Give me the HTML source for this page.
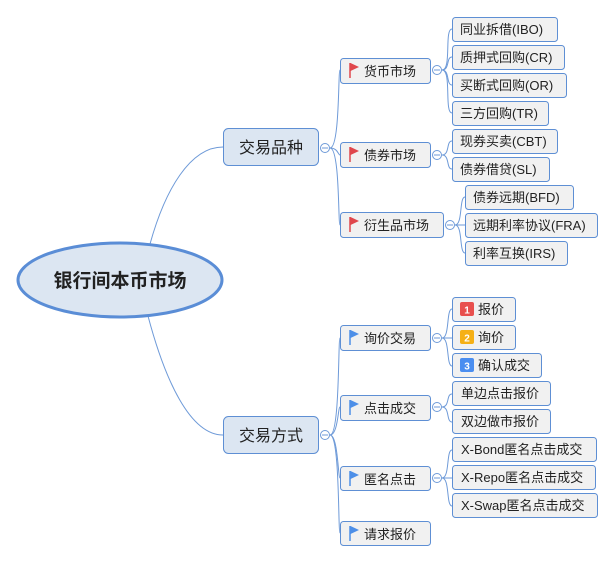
<!DOCTYPE html>
<html><head><meta charset="utf-8"><style>
html,body{margin:0;padding:0;background:#fff;}
svg{display:block;}
text{font-family:"Liberation Sans","Noto Sans CJK SC",sans-serif;fill:#222;}
.b{fill:#f1f1f1;stroke:#5e8fd4;stroke-width:1;}
.m{fill:#dce6f2;stroke:#5e8fd4;stroke-width:1;}
.l{fill:none;stroke:#6e9ad8;stroke-width:1;}
.c{fill:#fff;stroke:#6e9ad8;stroke-width:1;}
.t{font-size:13px;}
</style></head><body>
<svg width="614" height="562" viewBox="0 0 614 562">
<!-- root to main -->
<path class="l" d="M150,244 C165,190 190,147 223,147"/>
<path class="l" d="M148,316 C165,380 190,435 223,435"/>
<!-- main to level2 -->
<path class="l" d="M330,148 C340,148 338,70 340,70"/>
<path class="l" d="M330,148 C338,148 338,155 340,155"/>
<path class="l" d="M330,148 C340,148 338,225 340,225"/>
<path class="l" d="M330,435 C340,435 338,338 340,338"/>
<path class="l" d="M330,435 C338,435 338,407 340,407"/>
<path class="l" d="M330,435 C338,435 338,478 340,478"/>
<path class="l" d="M330,435 C340,435 338,533 340,533"/>
<!-- level2 to level3 -->
<g class="l">
<path d="M442,70 C452,70 444,29 452,29"/><path d="M442,70 C450,70 446,57 452,57"/>
<path d="M442,70 C450,70 446,85 452,85"/><path d="M442,70 C452,70 444,113 452,113"/>
<path d="M442,155 C450,155 446,141 452,141"/><path d="M442,155 C450,155 446,169 452,169"/>
<path d="M455,225 C463,225 459,197 465,197"/><path d="M455,225 L465,225"/><path d="M455,225 C463,225 459,253 465,253"/>
<path d="M442,338 C450,338 446,309 452,309"/><path d="M442,338 L452,338"/><path d="M442,338 C450,338 446,366 452,366"/>
<path d="M442,407 C450,407 446,394 452,394"/><path d="M442,407 C450,407 446,422 452,422"/>
<path d="M442,478 C450,478 446,450 452,450"/><path d="M442,478 L452,478"/><path d="M442,478 C450,478 446,506 452,506"/>
</g>
<!-- root -->
<ellipse cx="120" cy="280" rx="102" ry="37" fill="#dce6f2" stroke="#5a8dd6" stroke-width="3"/>
<text x="120" y="287" text-anchor="middle" font-size="19" font-weight="bold">银行间本币市场</text>
<!-- main -->
<rect class="m" x="223.5" y="128.5" width="95" height="37" rx="5"/>
<text x="271" y="153" text-anchor="middle" font-size="16">交易品种</text>
<rect class="m" x="223.5" y="416.5" width="95" height="37" rx="5"/>
<text x="271" y="441" text-anchor="middle" font-size="16">交易方式</text>
<circle class="c" cx="325" cy="148" r="4.5"/><line x1="322" y1="148" x2="328" y2="148" stroke="#6e9ad8"/>
<circle class="c" cx="325" cy="435" r="4.5"/><line x1="322" y1="435" x2="328" y2="435" stroke="#6e9ad8"/>
<!-- level2 -->
<g>
<rect class="b" x="340.5" y="58.5" width="90" height="25" rx="3"/><path d="M350,63 V78" stroke="#e0474c" stroke-width="1.5"/><path d="M350.5,63 L359,67 L350.5,71Z" fill="#e0474c"/><text class="t" x="364" y="76">货币市场</text>
<rect class="b" x="340.5" y="142.5" width="90" height="25" rx="3"/><path d="M350,147 V162" stroke="#e0474c" stroke-width="1.5"/><path d="M350.5,147 L359,151 L350.5,155Z" fill="#e0474c"/><text class="t" x="364" y="160">债券市场</text>
<rect class="b" x="340.5" y="212.5" width="103" height="25" rx="3"/><path d="M350,217 V232" stroke="#e0474c" stroke-width="1.5"/><path d="M350.5,217 L359,221 L350.5,225Z" fill="#e0474c"/><text class="t" x="364" y="230">衍生品市场</text>
<rect class="b" x="340.5" y="325.5" width="90" height="25" rx="3"/><path d="M350,330 V345" stroke="#4d8fe8" stroke-width="1.5"/><path d="M350.5,330 L359,334 L350.5,338Z" fill="#4d8fe8"/><text class="t" x="364" y="343">询价交易</text>
<rect class="b" x="340.5" y="395.5" width="90" height="25" rx="3"/><path d="M350,400 V415" stroke="#4d8fe8" stroke-width="1.5"/><path d="M350.5,400 L359,404 L350.5,408Z" fill="#4d8fe8"/><text class="t" x="364" y="413">点击成交</text>
<rect class="b" x="340.5" y="466.5" width="90" height="24" rx="3"/><path d="M350,471 V486" stroke="#4d8fe8" stroke-width="1.5"/><path d="M350.5,471 L359,475 L350.5,479Z" fill="#4d8fe8"/><text class="t" x="364" y="484">匿名点击</text>
<rect class="b" x="340.5" y="521.5" width="90" height="24" rx="3"/><path d="M350,526 V541" stroke="#4d8fe8" stroke-width="1.5"/><path d="M350.5,526 L359,530 L350.5,534Z" fill="#4d8fe8"/><text class="t" x="364" y="539">请求报价</text>
</g>
<g>
<circle class="c" cx="437" cy="70" r="4.5"/><line x1="434" y1="70" x2="440" y2="70" stroke="#6e9ad8"/>
<circle class="c" cx="437" cy="155" r="4.5"/><line x1="434" y1="155" x2="440" y2="155" stroke="#6e9ad8"/>
<circle class="c" cx="450" cy="225" r="4.5"/><line x1="447" y1="225" x2="453" y2="225" stroke="#6e9ad8"/>
<circle class="c" cx="437" cy="338" r="4.5"/><line x1="434" y1="338" x2="440" y2="338" stroke="#6e9ad8"/>
<circle class="c" cx="437" cy="407" r="4.5"/><line x1="434" y1="407" x2="440" y2="407" stroke="#6e9ad8"/>
<circle class="c" cx="437" cy="478" r="4.5"/><line x1="434" y1="478" x2="440" y2="478" stroke="#6e9ad8"/>
</g>
<!-- level3 -->
<g>
<rect class="b" x="452.5" y="17.5" width="105" height="24" rx="3"/><text class="t" x="460" y="34">同业拆借(IBO)</text>
<rect class="b" x="452.5" y="45.5" width="112" height="24" rx="3"/><text class="t" x="460" y="62">质押式回购(CR)</text>
<rect class="b" x="452.5" y="73.5" width="114" height="24" rx="3"/><text class="t" x="460" y="90">买断式回购(OR)</text>
<rect class="b" x="452.5" y="101.5" width="96" height="24" rx="3"/><text class="t" x="460" y="118">三方回购(TR)</text>
<rect class="b" x="452.5" y="129.5" width="105" height="24" rx="3"/><text class="t" x="460" y="146">现券买卖(CBT)</text>
<rect class="b" x="452.5" y="157.5" width="97" height="24" rx="3"/><text class="t" x="460" y="174">债券借贷(SL)</text>
<rect class="b" x="465.5" y="185.5" width="108" height="24" rx="3"/><text class="t" x="473" y="202">债券远期(BFD)</text>
<rect class="b" x="465.5" y="213.5" width="132" height="24" rx="3"/><text class="t" x="473" y="230">远期利率协议(FRA)</text>
<rect class="b" x="465.5" y="241.5" width="102" height="24" rx="3"/><text class="t" x="473" y="258">利率互换(IRS)</text>
<rect class="b" x="452.5" y="297.5" width="63" height="24" rx="3"/><rect x="460" y="302" width="14" height="14" rx="2" fill="#e8504e"/><text x="467" y="313.5" text-anchor="middle" font-size="10" font-weight="bold" style="fill:#fff">1</text><text class="t" x="478" y="314">报价</text>
<rect class="b" x="452.5" y="325.5" width="63" height="24" rx="3"/><rect x="460" y="330" width="14" height="14" rx="2" fill="#f5b016"/><text x="467" y="341.5" text-anchor="middle" font-size="10" font-weight="bold" style="fill:#fff">2</text><text class="t" x="478" y="342">询价</text>
<rect class="b" x="452.5" y="353.5" width="89" height="24" rx="3"/><rect x="460" y="358" width="14" height="14" rx="2" fill="#4b8ef0"/><text x="467" y="369.5" text-anchor="middle" font-size="10" font-weight="bold" style="fill:#fff">3</text><text class="t" x="478" y="370">确认成交</text>
<rect class="b" x="452.5" y="381.5" width="98" height="24" rx="3"/><text class="t" x="461" y="398">单边点击报价</text>
<rect class="b" x="452.5" y="409.5" width="98" height="24" rx="3"/><text class="t" x="461" y="426">双边做市报价</text>
<rect class="b" x="452.5" y="437.5" width="144" height="24" rx="3"/><text class="t" x="461" y="454">X-Bond匿名点击成交</text>
<rect class="b" x="452.5" y="465.5" width="143" height="24" rx="3"/><text class="t" x="461" y="482">X-Repo匿名点击成交</text>
<rect class="b" x="452.5" y="493.5" width="145" height="24" rx="3"/><text class="t" x="461" y="510">X-Swap匿名点击成交</text>
</g>
</svg>
</body></html>
